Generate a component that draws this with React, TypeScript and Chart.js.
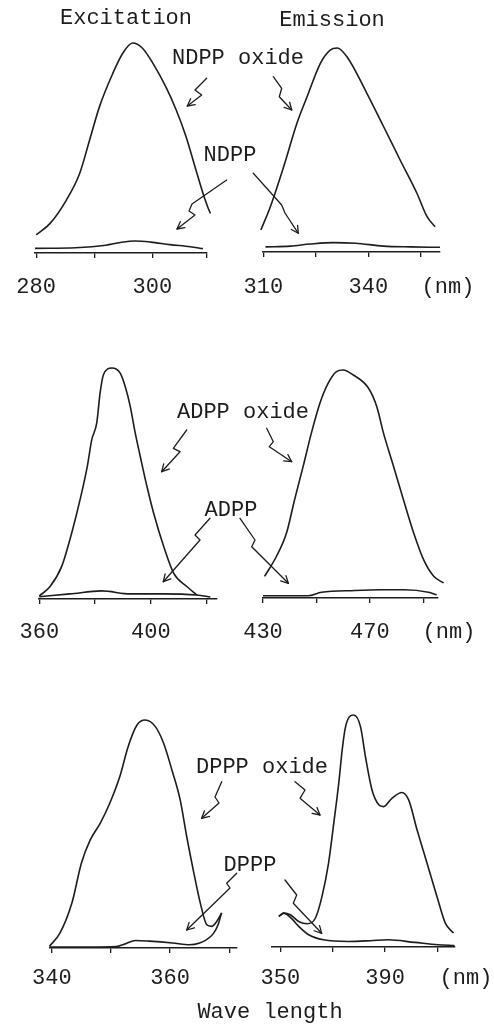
import React, { useEffect, useRef } from "react";
import { Chart, registerables } from "chart.js";

Chart.register(...registerables);

// ---------- DATA (wavelength nm, relative intensity, oxide peak = 100) ----------
// NDPP excitation
const ndppOxideExWl = [280.0, 282.4, 285.2, 287.5, 289.2, 290.9, 293.2, 294.9, 296.6, 298.3, 300.1, 302.3, 304.1, 305.8, 307.5, 308.9, 310.0, 311.2];
const ndppOxideExInt = [8.6, 14.1, 25.2, 38, 53.8, 69.7, 85.6, 95.1, 100, 97.5, 90.3, 79.2, 68.1, 55.4, 39.5, 26.8, 18.9, 15.7];
const ndppExWl = [279.8, 286.8, 292, 294.5, 297, 299.7, 303, 306.5, 308.7];
const ndppExInt = [2.2, 2.5, 3.7, 5, 5.7, 5.2, 4, 3, 2.1];
// NDPP emission
const ndppOxideEmWl = [309.3, 312, 315.8, 319.6, 322.5, 326.3, 329.1, 331.1, 333.9, 339.6, 344.4, 349.1, 353.9, 356.8, 359.1];
const ndppOxideEmInt = [10.8, 22.2, 41.8, 63.1, 76.1, 92.5, 99, 100, 95.7, 77.8, 61.4, 45.1, 28.8, 17.3, 12.4];
const ndppEmWl = [310.6, 317.7, 323.4, 330, 336.3, 344.3, 352, 360.5];
const ndppEmInt = [2.5, 2.9, 3.9, 4.6, 4.3, 2.9, 2.5, 2.3];
// ADPP excitation
const adppOxideExWl = [360, 363.8, 368, 371.6, 374.6, 377.2, 378.8, 380.6, 381.8, 383, 386, 389, 390.8, 392.6, 394.4, 396.2, 398.6, 401, 404.6, 408.2, 413, 416.5];
const adppOxideExInt = [1.3, 5.3, 14, 28.5, 42.9, 57.3, 68.9, 76.2, 89.2, 97.1, 100, 97.8, 92, 83.4, 71.8, 61.7, 48.7, 37.1, 22.7, 11.1, 5.3, 1.7];
const adppExWl = [360, 371, 382.4, 392.6, 404.4, 416.5, 421.3];
const adppExInt = [1, 2.2, 3.5, 2.2, 2.2, 1.7, 0.9];
// ADPP emission
const adppOxideEmWl = [430.6, 435, 438.8, 441.8, 445, 448.1, 451.3, 454.4, 457.5, 460, 463.8, 469.5, 472.6, 475.1, 478.9, 482.6, 486.4, 490.1, 493.9, 497.6];
const adppOxideEmInt = [9.5, 18.2, 28.5, 43, 57.6, 72.3, 85.4, 94.2, 99.3, 100, 97.8, 92, 83.9, 72.3, 57.6, 43, 28.5, 16.8, 9.5, 6.6];
const adppEmWl = [430, 446.8, 451.9, 464.4, 473.8, 483.1, 491.9, 495];
const adppEmInt = [1, 1, 2.5, 3.3, 3.6, 3.6, 2.5, 1.4];
// DPPP excitation
const dpppOxideExWl = [339.6, 341.4, 343.4, 345, 346.5, 348.2, 349.8, 351.5, 352.9, 354.4, 355.8, 357.5, 358.9, 360.3, 361.7, 362.8, 363.9, 365.1, 366.2, 367, 367.9, 368.7];
const dpppOxideExInt = [0.7, 6.6, 19.7, 37.2, 47.4, 54.8, 63.5, 75.2, 88.3, 97.8, 100, 97.1, 89.8, 78.1, 65, 48.9, 34.3, 19.7, 10.2, 9.5, 11.7, 15.3];
const dpppExWl = [339.7, 346.4, 350.9, 352.3, 354.2, 356.5, 360.4, 363.3, 365, 366.1, 367.3, 368.1, 368.7];
const dpppExInt = [0.4, 0.4, 0.6, 1.7, 3.3, 3, 2.2, 1.4, 2.2, 3.6, 6.3, 10.2, 15.5];
// DPPP emission
const dpppOxideEmWl = [349.4, 351.3, 353.8, 357, 360.2, 363.4, 365.9, 368.4, 370.4, 372.3, 373.6, 374.9, 378, 380.6, 382.5, 385, 387.6, 389.4, 392.6, 396.4, 399, 402.2, 406, 409.8, 413, 416.1];
const dpppOxideEmInt = [13.2, 14.6, 13.9, 11, 10, 12.5, 21.8, 36.2, 53.4, 70.6, 84.9, 95, 100, 95, 82, 67.7, 61.3, 60.5, 64.1, 66.6, 63.4, 50.5, 36.2, 21.8, 10.3, 6];
const dpppEmWl = [349.4, 351.3, 354.5, 357, 360.8, 366.5, 376, 384.3, 391.2, 401.3, 410.2, 416.5];
const dpppEmInt = [13.2, 14.6, 12, 8.9, 5.3, 3.1, 2.4, 2.7, 3.1, 2, 1, 0.6];

// Ticks and tick labels
const p1Ticks = [280, 290, 300, 309.4];
const p1Labels = [280, 300];
const p2Ticks = [310, 325, 340, 355];
const p2Labels = [310, 340];
const p3Ticks = [360, 380, 400, 420];
const p3Labels = [360, 400];
const p4Ticks = [430, 450, 470, 490];
const p4Labels = [430, 470];
const p5Ticks = [340, 350, 360, 370];
const p5Labels = [340, 360];
const p6Ticks = [350, 370, 390, 410];
const p6Labels = [350, 390];

// Text
const columnTitles = ["Excitation", "Emission"];
const compoundNames = ["NDPP", "ADPP", "DPPP"];
const unitLabel = "(nm)";
const axisTitle = "Wave length";

// ---------- LAYOUT / STYLE ----------
const INK = "#1d1d1d";
const FONT = "'Liberation Mono', 'DejaVu Sans Mono', monospace";
const FONT_SIZE = 22;
const AXIS_H = 50;

type Series = { x: number[]; y: number[] };
type Panel = {
  canvas: { x: number; y: number; w: number; h: number };
  area: { l: number; r: number; t: number; b: number };
  min: number;
  max: number;
  ticks: number[];
  labels: number[];
  tickPad: number;
  series: Series[];
};

const panels: Panel[] = [
  {
    canvas: { x: 0, y: 0, w: 247, h: 303 },
    area: { l: 35, r: 207, t: 43, b: 253 },
    min: 279.8, max: 309.4, ticks: p1Ticks, labels: p1Labels, tickPad: 16,
    series: [{ x: ndppOxideExWl, y: ndppOxideExInt }, { x: ndppExWl, y: ndppExInt }],
  },
  {
    canvas: { x: 215, y: 0, w: 279, h: 302 },
    area: { l: 263, r: 440, t: 48, b: 252 },
    min: 309.9, max: 360.5, ticks: p2Ticks, labels: p2Labels, tickPad: 17,
    series: [{ x: ndppOxideEmWl, y: ndppOxideEmInt }, { x: ndppEmWl, y: ndppEmInt }],
  },
  {
    canvas: { x: 0, y: 305, w: 247, h: 344 },
    area: { l: 39, r: 217, t: 368, b: 599 },
    min: 359.9, max: 423.7, ticks: p3Ticks, labels: p3Labels, tickPad: 15,
    series: [{ x: adppOxideExWl, y: adppOxideExInt }, { x: adppExWl, y: adppExInt }],
  },
  {
    canvas: { x: 215, y: 305, w: 279, h: 343 },
    area: { l: 263, r: 438, t: 370, b: 598 },
    min: 430, max: 495.5, ticks: p4Ticks, labels: p4Labels, tickPad: 16,
    series: [{ x: adppOxideEmWl, y: adppOxideEmInt }, { x: adppEmWl, y: adppEmInt }],
  },
  {
    canvas: { x: 0, y: 655, w: 247, h: 343 },
    area: { l: 50, r: 237, t: 720, b: 948 },
    min: 339.7, max: 371.3, ticks: p5Ticks, labels: p5Labels, tickPad: 12,
    series: [{ x: dpppOxideExWl, y: dpppOxideExInt }, { x: dpppExWl, y: dpppExInt }],
  },
  {
    canvas: { x: 215, y: 655, w: 279, h: 342 },
    area: { l: 272, r: 455, t: 715, b: 947 },
    min: 346.8, max: 416.7, ticks: p6Ticks, labels: p6Labels, tickPad: 13,
    series: [{ x: dpppOxideEmWl, y: dpppOxideEmInt }, { x: dpppEmWl, y: dpppEmInt }],
  },
];

// Annotation texts (page positions)
const textItems: { text: string; x: number; y: number }[] = [
  { text: columnTitles[0], x: 126, y: 18 },
  { text: columnTitles[1], x: 332, y: 20 },
  { text: compoundNames[0] + " oxide", x: 238, y: 58 },
  { text: compoundNames[0], x: 230, y: 155 },
  { text: compoundNames[1] + " oxide", x: 243, y: 412 },
  { text: compoundNames[1], x: 231, y: 510 },
  { text: compoundNames[2] + " oxide", x: 262, y: 767 },
  { text: compoundNames[2], x: 250, y: 865 },
  { text: unitLabel, x: 448, y: 287 },
  { text: unitLabel, x: 449, y: 632 },
  { text: unitLabel, x: 466, y: 978 },
  { text: axisTitle, x: 270, y: 1012 },
];

// Zig-zag pointer arrows (page positions)
const arrowPaths: number[][][] = [
  [[206.7, 78.3], [195, 90], [201.7, 95], [187.3, 106]],
  [[273.3, 76.7], [281.7, 88.3], [279.3, 96.7], [291.7, 110]],
  [[226.7, 180], [192, 204], [189, 211], [195, 215], [177, 229]],
  [[253.3, 173.3], [281.7, 205], [285, 213], [298.3, 233.3]],
  [[186.7, 430], [173.3, 448.3], [180, 451.7], [161.7, 471.7]],
  [[266.7, 428.3], [273.3, 441.7], [269.3, 446.7], [291.7, 461.7]],
  [[210, 518.3], [195, 535], [200, 540], [163.3, 581.7]],
  [[240, 518.3], [255, 540], [251.7, 546.7], [288.3, 583.3]],
  [[221.7, 781.7], [215, 797], [219, 803], [201.7, 818.3]],
  [[295, 781.7], [305, 790], [300, 798.3], [320, 815]],
  [[236.7, 873.3], [226.7, 883.3], [230, 888], [186.7, 930]],
  [[285, 880], [296.7, 895], [293.3, 903.3], [321.7, 933.3]],
];

function arrowHead(path: number[][]): string {
  const [px, py] = path[path.length - 1];
  const [qx, qy] = path[path.length - 2];
  const len = Math.hypot(px - qx, py - qy) || 1;
  const dx = (px - qx) / len;
  const dy = (py - qy) / len;
  const L = 8;
  const a = (28 * Math.PI) / 180;
  const rot = (ang: number) => [
    px - L * (dx * Math.cos(ang) - dy * Math.sin(ang)),
    py - L * (dx * Math.sin(ang) + dy * Math.cos(ang)),
  ];
  const p1 = rot(a);
  const p2 = rot(-a);
  return `${p1[0]},${p1[1]} ${px},${py} ${p2[0]},${p2[1]}`;
}

function SpectrumPanel({ p }: { p: Panel }) {
  const ref = useRef<HTMLCanvasElement | null>(null);
  useEffect(() => {
    const el = ref.current;
    if (!el) return;
    const { canvas: cv, area } = p;
    const chart = new Chart(el, {
      type: "line",
      data: {
        datasets: p.series.map((s) => ({
          data: s.x.map((x, i) => ({ x, y: s.y[i] })),
          borderColor: INK,
          borderWidth: 1.6,
          pointRadius: 0,
          fill: false,
          cubicInterpolationMode: "monotone" as const,
          clip: false as any,
        })),
      },
      options: {
        responsive: false,
        animation: false,
        events: [],
        layout: {
          padding: {
            left: area.l - cv.x,
            right: cv.x + cv.w - area.r,
            top: area.t - cv.y,
            bottom: cv.y + cv.h - area.b - AXIS_H,
          },
        },
        plugins: {
          legend: { display: false },
          tooltip: { enabled: false },
          title: { display: false },
        },
        scales: {
          x: {
            type: "linear",
            min: p.min,
            max: p.max,
            afterBuildTicks: (s: any) => {
              s.ticks = p.ticks.map((v) => ({ value: v }));
            },
            afterFit: (s: any) => {
              s.height = AXIS_H;
            },
            ticks: {
              autoSkip: false,
              maxRotation: 0,
              minRotation: 0,
              padding: p.tickPad,
              color: INK,
              font: { family: FONT, size: FONT_SIZE },
              callback: (v: any) => (p.labels.includes(Number(v)) ? String(v) : ""),
            },
            grid: {
              drawOnChartArea: false,
              drawTicks: true,
              tickLength: 5,
              color: INK,
              lineWidth: 1.3,
            },
            border: { display: true, color: INK, width: 1.4 },
          },
          y: { display: false, min: 0, max: 100 },
        },
      },
    } as any);
    return () => chart.destroy();
  }, [p]);
  return (
    <canvas
      ref={ref}
      width={p.canvas.w}
      height={p.canvas.h}
      style={{
        position: "absolute",
        left: p.canvas.x,
        top: p.canvas.y,
        width: p.canvas.w,
        height: p.canvas.h,
      }}
    />
  );
}

export default function App() {
  return (
    <div
      style={{
        position: "absolute",
        left: 0,
        top: 0,
        width: 494,
        height: 1030,
        background: "#ffffff",
        overflow: "hidden",
      }}
    >
      {panels.map((p, i) => (
        <SpectrumPanel key={i} p={p} />
      ))}
      <svg
        width={494}
        height={1030}
        style={{ position: "absolute", left: 0, top: 0, pointerEvents: "none" }}
      >
        {arrowPaths.map((path, i) => (
          <g key={i} fill="none" stroke={INK} strokeWidth={1.3} strokeLinejoin="round" strokeLinecap="round">
            <polyline points={path.map((pt) => pt.join(",")).join(" ")} />
            <polyline points={arrowHead(path)} />
          </g>
        ))}
        {textItems.map((t, i) => (
          <text
            key={i}
            x={t.x}
            y={t.y}
            textAnchor="middle"
            dominantBaseline="central"
            fontFamily={FONT}
            fontSize={FONT_SIZE}
            fill={INK}
          >
            {t.text}
          </text>
        ))}
      </svg>
    </div>
  );
}
